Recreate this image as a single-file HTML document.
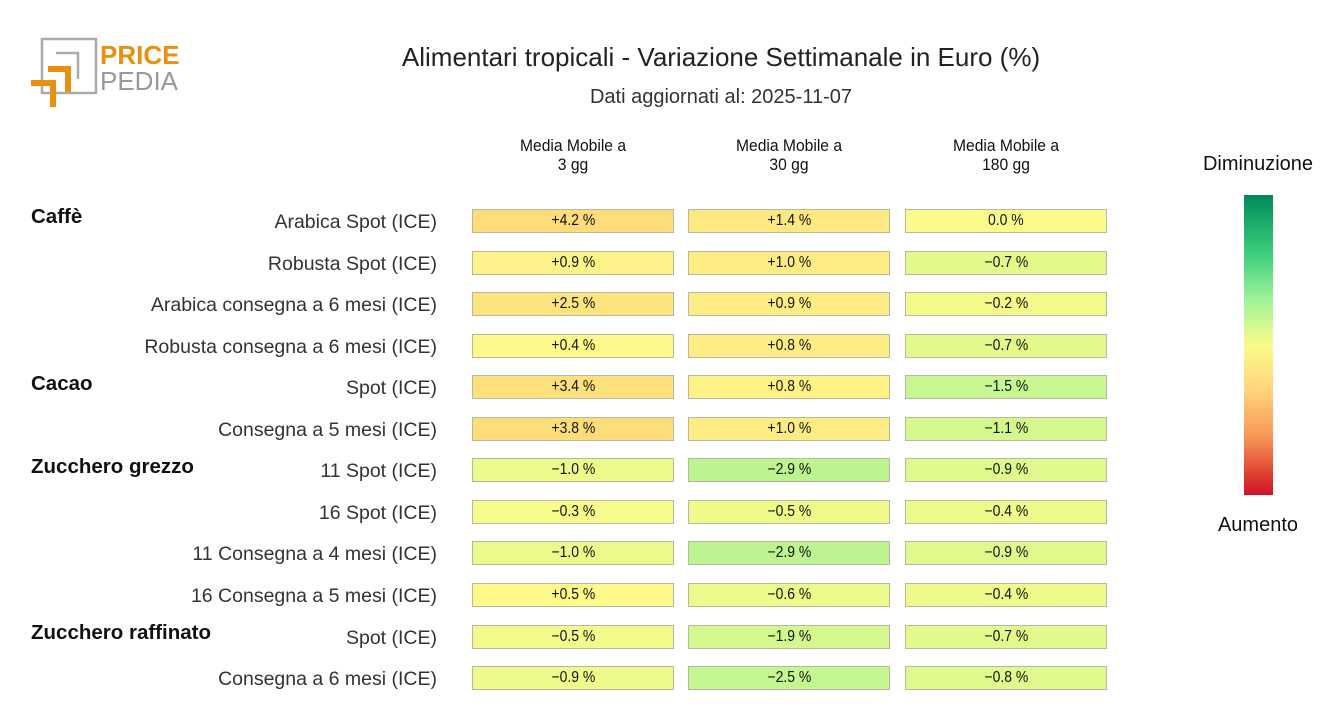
<!DOCTYPE html>
<html><head><meta charset="utf-8"><style>
body{margin:0;width:1320px;height:720px;background:#fff;font-family:"Liberation Sans",sans-serif;position:relative;overflow:hidden;color:#111}
.a{position:absolute}
.c{position:absolute;width:200px;height:22px;border:1px solid #b8b8a0;text-align:center;line-height:22px;font-size:15.5px}
.c span{display:inline-block;transform:scaleX(0.9)}
.l{position:absolute;right:883px;font-size:19.5px;color:#333;white-space:nowrap;margin-top:2px}
.g{position:absolute;left:31px;font-size:20.5px;font-weight:bold;color:#111;white-space:nowrap}
.h{position:absolute;width:202px;text-align:center;font-size:17px;line-height:19px;transform:scaleX(0.92)}
</style></head><body>
<svg class="a" style="left:28px;top:36px" width="160" height="75">
<rect x="14" y="3" width="54" height="54" fill="none" stroke="#aaa" stroke-width="2.5"/>
<path d="M28 17 H50 V43" fill="none" stroke="#aaa" stroke-width="2.5"/>
<path d="M3 47 H25 V71" fill="none" stroke="#e8900f" stroke-width="6"/>
<path d="M20 33 H40 V56" fill="none" stroke="#e8900f" stroke-width="6"/>
<text x="72" y="28" font-size="26" font-weight="bold" fill="#e8900f" font-family="Liberation Sans">PRICE</text>
<text x="72" y="54" font-size="26" fill="#999" font-family="Liberation Sans">PEDIA</text>
</svg>
<div class="a" style="left:0;width:1442px;top:42px;text-align:center;font-size:26px;color:#222">Alimentari tropicali - Variazione Settimanale in Euro (%)</div>
<div class="a" style="left:0;width:1442px;top:86px;text-align:center;font-size:20px;color:#333">Dati aggiornati al: 2025-11-07</div>
<div class="h" style="left:472px;top:136px">Media Mobile a<br>3 gg</div>
<div class="h" style="left:688px;top:136px">Media Mobile a<br>30 gg</div>
<div class="h" style="left:905px;top:136px">Media Mobile a<br>180 gg</div>
<div class="a" style="left:1158px;width:200px;text-align:center;top:153px;font-size:20px">Diminuzione</div>
<div class="a" style="left:1158px;width:200px;text-align:center;top:514px;font-size:20px">Aumento</div>
<div class="a" style="left:1244px;top:195px;width:29px;height:300px;background:linear-gradient(#008a5a,#3fcf7f 20%,#a0f39a 35%,#fafb8a 50%,#fed47a 65%,#f79a5a 80%,#e0402f 93%,#d0102a)"></div>
<div class="g" style="top:205px">Caffè</div>
<div class="g" style="top:372px">Cacao</div>
<div class="g" style="top:455px">Zucchero grezzo</div>
<div class="g" style="top:621px">Zucchero raffinato</div>
<div class="l" style="top:209px">Arabica Spot (ICE)</div>
<div class="l" style="top:251px">Robusta Spot (ICE)</div>
<div class="l" style="top:292px">Arabica consegna a 6 mesi (ICE)</div>
<div class="l" style="top:334px">Robusta consegna a 6 mesi (ICE)</div>
<div class="l" style="top:375px">Spot (ICE)</div>
<div class="l" style="top:417px">Consegna a 5 mesi (ICE)</div>
<div class="l" style="top:458px">11 Spot (ICE)</div>
<div class="l" style="top:500px">16 Spot (ICE)</div>
<div class="l" style="top:541px">11 Consegna a 4 mesi (ICE)</div>
<div class="l" style="top:583px">16 Consegna a 5 mesi (ICE)</div>
<div class="l" style="top:625px">Spot (ICE)</div>
<div class="l" style="top:666px">Consegna a 6 mesi (ICE)</div>

<div class="c" style="left:472px;top:209px;background:#fedc7a"><span>+4.2 %</span></div>
<div class="c" style="left:688px;top:209px;background:#fee882"><span>+1.4 %</span></div>
<div class="c" style="left:905px;top:209px;background:#fafb8a"><span>0.0 %</span></div>
<div class="c" style="left:472px;top:251px;background:#fef38a"><span>+0.9 %</span></div>
<div class="c" style="left:688px;top:251px;background:#feeb84"><span>+1.0 %</span></div>
<div class="c" style="left:905px;top:251px;background:#e2f98b"><span>−0.7 %</span></div>
<div class="c" style="left:472px;top:292px;background:#fee47f"><span>+2.5 %</span></div>
<div class="c" style="left:688px;top:292px;background:#feed85"><span>+0.9 %</span></div>
<div class="c" style="left:905px;top:292px;background:#f3fa8a"><span>−0.2 %</span></div>
<div class="c" style="left:472px;top:334px;background:#fdf98a"><span>+0.4 %</span></div>
<div class="c" style="left:688px;top:334px;background:#feed85"><span>+0.8 %</span></div>
<div class="c" style="left:905px;top:334px;background:#e2f98b"><span>−0.7 %</span></div>
<div class="c" style="left:472px;top:375px;background:#fee07c"><span>+3.4 %</span></div>
<div class="c" style="left:688px;top:375px;background:#fef286"><span>+0.8 %</span></div>
<div class="c" style="left:905px;top:375px;background:#c6f790"><span>−1.5 %</span></div>
<div class="c" style="left:472px;top:417px;background:#fddd7a"><span>+3.8 %</span></div>
<div class="c" style="left:688px;top:417px;background:#feeb84"><span>+1.0 %</span></div>
<div class="c" style="left:905px;top:417px;background:#d4f88e"><span>−1.1 %</span></div>
<div class="c" style="left:472px;top:458px;background:#ecfa8c"><span>−1.0 %</span></div>
<div class="c" style="left:688px;top:458px;background:#bcf590"><span>−2.9 %</span></div>
<div class="c" style="left:905px;top:458px;background:#dff98c"><span>−0.9 %</span></div>
<div class="c" style="left:472px;top:500px;background:#f6fb8b"><span>−0.3 %</span></div>
<div class="c" style="left:688px;top:500px;background:#effa8b"><span>−0.5 %</span></div>
<div class="c" style="left:905px;top:500px;background:#eefa8b"><span>−0.4 %</span></div>
<div class="c" style="left:472px;top:541px;background:#ecfa8c"><span>−1.0 %</span></div>
<div class="c" style="left:688px;top:541px;background:#bcf590"><span>−2.9 %</span></div>
<div class="c" style="left:905px;top:541px;background:#dff98c"><span>−0.9 %</span></div>
<div class="c" style="left:472px;top:583px;background:#fdf98a"><span>+0.5 %</span></div>
<div class="c" style="left:688px;top:583px;background:#ecfa8c"><span>−0.6 %</span></div>
<div class="c" style="left:905px;top:583px;background:#eefa8b"><span>−0.4 %</span></div>
<div class="c" style="left:472px;top:625px;background:#f3fa8b"><span>−0.5 %</span></div>
<div class="c" style="left:688px;top:625px;background:#d2f88e"><span>−1.9 %</span></div>
<div class="c" style="left:905px;top:625px;background:#e2f98b"><span>−0.7 %</span></div>
<div class="c" style="left:472px;top:666px;background:#effa8c"><span>−0.9 %</span></div>
<div class="c" style="left:688px;top:666px;background:#c5f790"><span>−2.5 %</span></div>
<div class="c" style="left:905px;top:666px;background:#e0f98c"><span>−0.8 %</span></div>
</body></html>
